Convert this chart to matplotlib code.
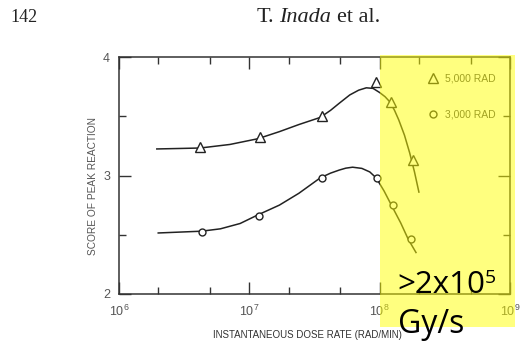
import matplotlib

matplotlib.use("Agg")
import matplotlib.pyplot as plt
from matplotlib.lines import Line2D
from matplotlib.offsetbox import AnchoredOffsetbox, HPacker, TextArea
from matplotlib.patches import Rectangle
from matplotlib.text import Annotation
from matplotlib.ticker import NullFormatter

# measured points (dose rate in rad/min, score of peak reaction)
rate_5000 = [4.2e6, 1.2e7, 3.6e7, 9.3e7, 1.23e8, 1.8e8]
score_5000 = [3.24, 3.325, 3.50, 3.79, 3.62, 3.13]
rate_3000 = [4.3e6, 1.18e7, 3.6e7, 9.5e7, 1.26e8, 1.74e8]
score_3000 = [2.52, 2.66, 2.98, 2.98, 2.75, 2.46]

# hand-drawn fit curves
fit_rate_5000 = [1.95e6, 2.9e6, 4.2e6, 7.1e6, 1.16e7, 1.7e7, 2.4e7, 3.5e7,
                 4.2e7, 4.9e7, 5.9e7, 6.9e7, 7.9e7, 8.9e7, 1.0e8, 1.1e8,
                 1.2e8, 1.3e8, 1.4e8, 1.55e8, 1.7e8, 1.85e8, 2.0e8]
fit_score_5000 = [3.224, 3.228, 3.232, 3.262, 3.31, 3.37, 3.43, 3.49,
                  3.55, 3.61, 3.68, 3.72, 3.74, 3.735, 3.70, 3.665,
                  3.62, 3.55, 3.47, 3.34, 3.19, 3.03, 2.86]
fit_rate_3000 = [2.0e6, 4.3e6, 6.0e6, 8.5e6, 1.16e7, 1.7e7, 2.4e7, 3.5e7,
                 4.2e7, 4.9e7, 5.5e7, 6.2e7, 7.3e7, 8.4e7, 9.4e7, 1.08e8,
                 1.23e8, 1.45e8, 1.66e8, 1.9e8]
fit_score_3000 = [2.515, 2.53, 2.55, 2.595, 2.667, 2.75, 2.85, 2.98,
                  3.02, 3.046, 3.062, 3.07, 3.06, 3.03, 2.98, 2.87,
                  2.75, 2.60, 2.46, 2.35]

xticks = [1e6, 1e7, 1e8, 1e9]
xtick_labels = [r"$10^6$", r"$10^7$", r"$10^8$", r"$10^9$"]
xminor = [2e6, 5e6, 2e7, 5e7, 2e8, 5e8]
yticks = [2, 3, 4]
ytick_labels = ["2", "3", "4"]
yminor = [2.5, 3.5]
legend_labels = ["5,000 RAD", "3,000 RAD"]

narrow = "Liberation Sans"
plt.rcParams["mathtext.default"] = "regular"

W, H = 526, 354
fig = plt.figure(figsize=(W / 100, H / 100), dpi=100)
ax = fig.add_axes([119 / W, 60 / H, 391 / W, 237 / H])

ink = "#222222"
ax.plot(fit_rate_5000, fit_score_5000, color=ink, lw=1.1)
ax.plot(fit_rate_3000, fit_score_3000, color=ink, lw=1.1)
ax.plot(rate_5000, score_5000, ls="none", marker="^", ms=6.5, mfc="white",
        mec=ink, mew=1.0)
ax.plot(rate_3000, score_3000, ls="none", marker="o", ms=5, mfc="white",
        mec=ink, mew=1.0)

ax.set_xscale("log")
ax.set_xlim(1e6, 1e9)
ax.set_ylim(2, 4)
ax.set_xticks(xticks, xtick_labels)
ax.set_xticks(xminor, minor=True)
ax.set_yticks(yticks, ytick_labels)
ax.set_yticks(yminor, minor=True)
ax.xaxis.set_minor_formatter(NullFormatter())
ax.tick_params(which="both", direction="in", top=True, right=True,
               color="#333333", width=1.0, labelcolor="#555555")
ax.tick_params(which="major", length=8.5)
ax.tick_params(which="minor", length=5)
ax.tick_params(axis="x", pad=7)
ax.tick_params(axis="y", pad=6.5)
for lab in ax.get_xticklabels() + ax.get_yticklabels():
    lab.set_family(narrow)
    lab.set_fontsize(9)
for sp in ax.spines.values():
    sp.set_color("#333333")
    sp.set_linewidth(1.1)

ax.set_xlabel("INSTANTANEOUS DOSE RATE (RAD/MIN)", family=narrow, fontsize=7,
              color="#333333", va="center")
ax.xaxis.set_label_coords(0.481, -0.173)
ax.set_ylabel("SCORE OF PEAK REACTION", family=narrow, fontsize=7.3,
              color="#555555", va="center")
ax.yaxis.set_label_coords(-0.0665, 0.456)

handles = [
    Line2D([], [], ls="none", marker="^", ms=6.5, mfc="white", mec=ink, mew=1.0),
    Line2D([], [], ls="none", marker="o", ms=5, mfc="white", mec=ink, mew=1.0),
]
ax.legend(handles, legend_labels, loc="upper left", bbox_to_anchor=(0.79, 0.93),
          frameon=False, borderaxespad=0, borderpad=0, handlelength=1.0,
          handletextpad=0.6, labelspacing=2.5,
          prop={"family": narrow, "size": 7.5}, labelcolor="#444444")

# page header of the scanned paper
fig.text(10 / W, 1 - 18 / H, "142", family="Liberation Serif", fontsize=13,
         color=ink, va="center", ha="left")
serif = {"family": "Liberation Serif", "size": 16, "color": ink}
header = HPacker(children=[
    TextArea("T.", textprops=serif),
    TextArea("Inada", textprops={**serif, "style": "italic"}),
    TextArea("et al.", textprops=serif),
], sep=4, pad=0, align="baseline")
fig.add_artist(AnchoredOffsetbox(loc="center", child=header, frameon=False,
                                 pad=0, borderpad=0,
                                 bbox_to_anchor=(318 / W, 1 - 18 / H),
                                 bbox_transform=fig.transFigure))

# yellow highlight over the FLASH region
fig.add_artist(Rectangle((380 / W, 1 - 327 / H), 135 / W, 272 / H,
                         transform=fig.transFigure, facecolor="#FFFF00",
                         alpha=0.5, edgecolor="none", zorder=5))

big = {"family": "Open Sans", "color": "black", "zorder": 6}
t1 = fig.text(397 / W, 1 - 293 / H, ">2x10", fontsize=22.5, va="baseline",
              ha="left", **big)
fig.text(398 / W, 1 - 333 / H, "Gy/s", fontsize=23, va="baseline", ha="left",
         **big)
fig.add_artist(Annotation("5", xy=(1.0, 1.02), xycoords=t1, fontsize=14,
                          va="top", ha="left", **big))

fig.savefig("out.png", dpi=100)
